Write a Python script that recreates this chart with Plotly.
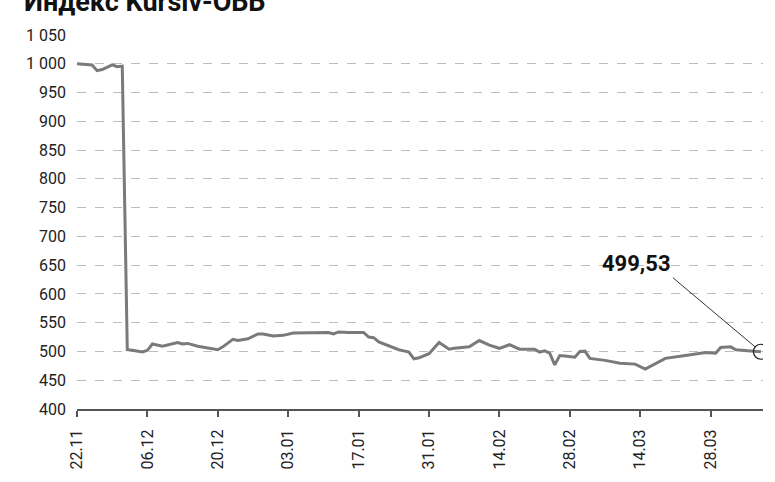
import plotly.graph_objects as go

title_text = "Индекс Kursiv-ОББ"

dates = [
    "2021-11-22", "2021-11-24", "2021-11-25", "2021-11-26", "2021-11-27",
    "2021-11-29", "2021-11-30", "2021-12-01", "2021-12-02", "2021-12-03",
    "2021-12-05", "2021-12-06", "2021-12-07", "2021-12-09", "2021-12-10",
    "2021-12-12", "2021-12-13", "2021-12-14", "2021-12-16", "2021-12-20",
    "2021-12-21", "2021-12-23", "2021-12-24", "2021-12-26", "2021-12-28",
    "2021-12-29", "2021-12-31", "2022-01-02", "2022-01-04", "2022-01-08",
    "2022-01-11", "2022-01-12", "2022-01-13", "2022-01-15", "2022-01-18",
    "2022-01-19", "2022-01-20", "2022-01-21", "2022-01-25", "2022-01-26",
    "2022-01-27", "2022-01-28", "2022-01-29", "2022-01-31", "2022-02-02",
    "2022-02-04", "2022-02-05", "2022-02-08", "2022-02-10", "2022-02-12",
    "2022-02-14", "2022-02-16", "2022-02-18", "2022-02-21", "2022-02-22",
    "2022-02-23", "2022-02-24", "2022-02-25", "2022-02-26", "2022-02-27",
    "2022-03-01", "2022-03-02", "2022-03-03", "2022-03-04", "2022-03-07",
    "2022-03-10", "2022-03-13", "2022-03-15", "2022-03-17", "2022-03-19",
    "2022-03-23", "2022-03-27", "2022-03-29", "2022-03-30", "2022-04-01",
    "2022-04-02", "2022-04-05", "2022-04-07",
]

values = [
    1000, 999, 998, 988, 990,
    998, 995, 996, 503, 502,
    499, 502, 513, 509, 511,
    515.5, 513, 514, 509, 503,
    508, 521, 519, 522, 530.5,
    530.5, 527, 528, 532, 533,
    533, 530.5, 534, 533, 533,
    525, 524, 516.7, 503, 501,
    499, 487, 489, 496, 515.5,
    504, 505.5, 508, 519, 511,
    505.5, 511.7, 504, 504, 499,
    501, 497, 476.7, 493, 492,
    490, 500, 500.5, 488, 484.5,
    479.5, 478, 469.5, 479, 488,
    493, 498, 497, 507, 508,
    503, 501, 499.53,
]

tick_dates = ["2021-11-22", "2021-12-06", "2021-12-20", "2022-01-03", "2022-01-17",
              "2022-01-31", "2022-02-14", "2022-02-28", "2022-03-14", "2022-03-28"]
tick_labels = ["22.11", "06.12", "20.12", "03.01", "17.01",
               "31.01", "14.02", "28.02", "14.03", "28.03"]

y_ticks = [400, 450, 500, 550, 600, 650, 700, 750, 800, 850, 900, 950, 1000, 1050]
y_labels = ["400", "450", "500", "550", "600", "650", "700", "750", "800", "850",
            "900", "950", "1 000", "1 050"]

last_label = "499,53"

fig = go.Figure()
fig.add_trace(go.Scatter(
    x=dates, y=values, mode="lines",
    line=dict(color="#7a7a7a", width=3),
    hoverinfo="skip", showlegend=False,
))
fig.add_trace(go.Scatter(
    x=[dates[-1]], y=[values[-1]], mode="markers",
    marker=dict(symbol="circle-open", size=15, color="#222222", line=dict(width=1.2)),
    hoverinfo="skip", showlegend=False,
))

fig.add_annotation(
    x=dates[-1], y=values[-1], xref="x", yref="y",
    text="<b>" + last_label + "</b>",
    showarrow=True, arrowhead=0, arrowwidth=1, arrowcolor="#333333",
    ax=-88, ay=-74, standoff=7,
    xanchor="right", yanchor="bottom",
    font=dict(family="Roboto", size=22, color="#111111"),
)

fig.add_annotation(
    x=-0.08, y=1.040, xref="paper", yref="paper",
    xanchor="left", yanchor="bottom",
    text="<b>" + title_text + "</b>", showarrow=False,
    font=dict(family="Roboto", size=27, color="#111111"),
)

fig.update_layout(
    width=775, height=482,
    margin=dict(l=77, r=12, t=35, b=63),
    paper_bgcolor="white", plot_bgcolor="white",
    separators=", ",
    font=dict(family="Roboto", size=16, color="#222222"),
    xaxis=dict(
        type="date",
        range=["2021-11-22", "2022-04-07 10:00"],
        tickvals=tick_dates, ticktext=tick_labels,
        tickangle=-90,
        showgrid=False, zeroline=False,
        showline=True, linecolor="#555555", linewidth=2,
        ticks="outside", ticklen=6, tickwidth=1.5, tickcolor="#555555",
        ticklabelstandoff=6,
        tickfont=dict(size=16, color="#222222"),
    ),
    yaxis=dict(
        range=[400, 1050],
        tickvals=y_ticks, ticktext=y_labels,
        showgrid=True, gridcolor="#bdbdbd", gridwidth=1, griddash="dash",
        zeroline=False, showline=False, ticks="",
        ticklabelstandoff=10,
        tickfont=dict(size=16, color="#222222"),
    ),
)

fig.write_html("out.html", config={"displayModeBar": False},
               post_script="document.body.style.margin='0';")
